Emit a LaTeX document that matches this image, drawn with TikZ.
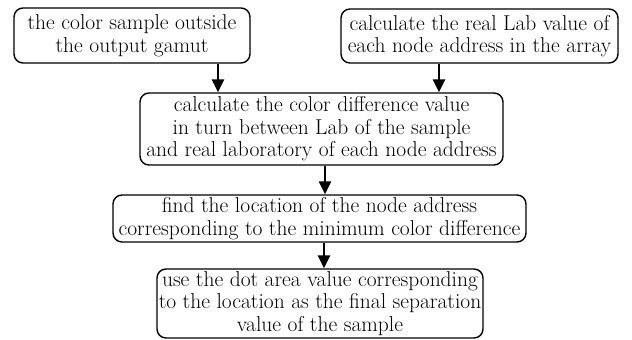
\documentclass[tikz,border=0pt]{standalone}
\usetikzlibrary{arrows.meta}
\begin{document}
\begin{tikzpicture}[x=1pt,y=-1pt,
  box/.style={draw, line width=1.4pt, rounded corners=9pt, align=center, inner sep=0pt,
    font=\fontsize{21.5}{22.5}\selectfont},
  arr/.style={line width=2.8pt, -{Triangle[length=13pt,width=12pt]}}]
\useasboundingbox (0,0) rectangle (632,340);
\node[box, minimum width=236pt, minimum height=55pt] (b1) at (132,35.5) {the color sample outside\\the output gamut};
\node[box, minimum width=277pt, minimum height=54pt] (b2) at (479.5,36) {calculate the real Lab value of\\each node address in the array};
\node[box, minimum width=363pt, minimum height=72pt] (b3) at (321.5,129) {calculate the color difference value\\in turn between Lab of the sample\\and real laboratory of each node address};
\node[box, minimum width=413pt, minimum height=47pt] (b4) at (319.5,218.5) {find the location of the node address\\corresponding to the minimum color difference};
\node[box, minimum width=326pt, minimum height=69pt] (b5) at (320,303.5) {use the dot area value corresponding\\to the location as the final separation\\value of the sample};
\coordinate (a1) at ([xshift=86pt]b1.south);
\coordinate (a2) at ([xshift=-40.5pt]b2.south);
\coordinate (a3) at ([xshift=3.5pt]b3.south);
\coordinate (a4) at ([xshift=4.5pt]b4.south);
\draw[arr] (a1) -- (a1 |- b3.north);
\draw[arr] (a2) -- (a2 |- b3.north);
\draw[arr] (a3) -- (a3 |- b4.north);
\draw[arr] (a4) -- (a4 |- b5.north);
\end{tikzpicture}
\end{document}
